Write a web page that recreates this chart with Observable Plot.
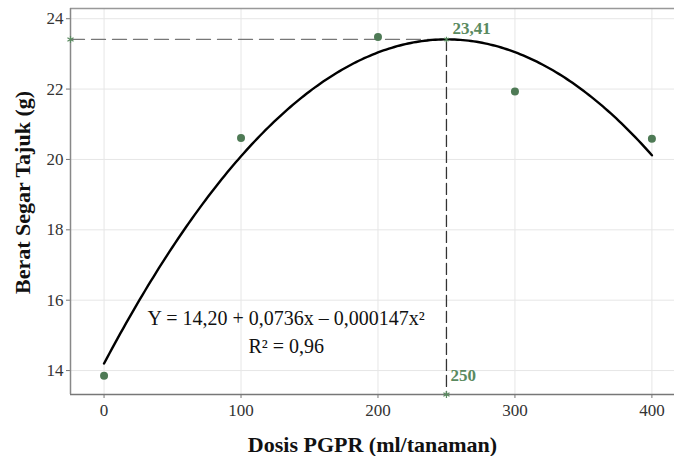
<!DOCTYPE html>
<html>
<head>
<meta charset="utf-8">
<script src="https://cdn.jsdelivr.net/npm/d3@7"></script>
<script src="https://cdn.jsdelivr.net/npm/@observablehq/plot@0.6"></script>
<style>
  html, body { margin: 0; padding: 0; background: #fff; }
  #chart svg { display: block; }
  #chart svg, #chart svg text { font-family: "Liberation Serif", "DejaVu Serif", serif !important; }
</style>
</head>
<body>
<div id="chart"></div>
<script>
// Observed data
const dose = [0, 100, 200, 300, 400];
const weight = [13.85, 20.61, 23.48, 21.93, 20.59];

// Fitted quadratic (coefficients as printed on the chart)
const coef = [14.20, 0.0736, -0.000147];
const eqLines = ["Y = 14,20 + 0,0736x \u2013 0,000147x\u00B2", "R\u00B2 = 0,96"];

// Optimum
const optX = 250;
const optY = 23.41;
const optXLabel = "250";
const optYLabel = "23,41";

// Axes
const xTicks = [0, 100, 200, 300, 400];
const yTicks = [14, 16, 18, 20, 22, 24];
const xDomain = [-24.5, 416.5];
const yDomain = [13.32, 24.29];
const xTitle = "Dosis PGPR (ml/tanaman)";
const yTitle = "Berat Segar Tajuk (g)";

const points = dose.map((d, i) => ({x: d, y: weight[i]}));
const curve = d3.range(0, 400.001, 2).map(x => ({x, y: coef[0] + coef[1] * x + coef[2] * x * x}));
const hLine = [{x: xDomain[0], y: optY}, {x: optX, y: optY}];
const vLine = [{x: optX, y: optY}, {x: optX, y: yDomain[0]}];
const stars = [{x: xDomain[0], y: optY, r: 4}, {x: optX, y: yDomain[0], r: 4}, {x: optX, y: optY, r: 2.5}];

const green = "#4e7a55";
const textGreen = "#5a8a60";

const chart = Plot.plot({
  width: 674,
  height: 456,
  marginLeft: 70,
  marginTop: 8,
  marginBottom: 62,
  marginRight: 0,
  style: {fontSize: "16px", color: "#333", background: "#fff"},
  x: {domain: xDomain, ticks: xTicks, label: null},
  y: {domain: yDomain, ticks: yTicks, label: null},
  marks: [
    Plot.gridX(xTicks, {stroke: "#e6e6e6", strokeOpacity: 1}),
    Plot.gridY(yTicks, {stroke: "#e6e6e6", strokeOpacity: 1}),
    Plot.axisX(xTicks, {tickSize: 4, tickPadding: 5, stroke: "#777", fill: "#333", fontSize: 17, label: null}),
    Plot.axisY(yTicks, {tickSize: 4, tickPadding: 3, stroke: "#777", fill: "#333", fontSize: 17, label: null}),
    Plot.ruleY([yDomain[1]], {stroke: "#999", strokeWidth: 1.5}),
    Plot.ruleY([yDomain[0]], {stroke: "#777", strokeWidth: 1.5}),
    Plot.ruleX([xDomain[0]], {stroke: "#888", strokeWidth: 1.5}),
    Plot.line(hLine, {x: "x", y: "y", stroke: "#777", strokeWidth: 1.3, strokeDasharray: "14,7"}),
    Plot.line(vLine, {x: "x", y: "y", stroke: "#333", strokeWidth: 1.3, strokeDasharray: "11,5"}),
    Plot.line(curve, {x: "x", y: "y", stroke: "#000", strokeWidth: 2.4, curve: "linear"}),
    Plot.dot(points, {x: "x", y: "y", r: 4, fill: green, stroke: "none"}),
    Plot.dot(stars, {x: "x", y: "y", r: "r", symbol: "asterisk", stroke: textGreen, strokeWidth: 1.2}),
    Plot.text([optYLabel], {x: optX, y: optY, text: d => d, dx: 6, dy: -11, textAnchor: "start", fill: textGreen, fontWeight: "bold", fontSize: 17}),
    Plot.text([optXLabel], {x: optX, y: yDomain[0], text: d => d, dx: 4, dy: -19, textAnchor: "start", fill: textGreen, fontWeight: "bold", fontSize: 17}),
    Plot.text([eqLines[0]], {x: 133, y: 15.48, text: d => d, fill: "#111", fontSize: 20}),
    Plot.text([eqLines[1]], {x: 133, y: 14.68, text: d => d, fill: "#111", fontSize: 20}),
    Plot.text([xTitle], {frameAnchor: "bottom", dy: 50, lineAnchor: "middle", textAnchor: "middle", text: d => d, fill: "#111", fontWeight: "bold", fontSize: 22}),
    Plot.text([yTitle], {frameAnchor: "left", dx: -48, dy: -9, rotate: -90, lineAnchor: "middle", textAnchor: "middle", text: d => d, fill: "#111", fontWeight: "bold", fontSize: 22})
  ]
});
document.getElementById("chart").appendChild(chart);
</script>
</body>
</html>
